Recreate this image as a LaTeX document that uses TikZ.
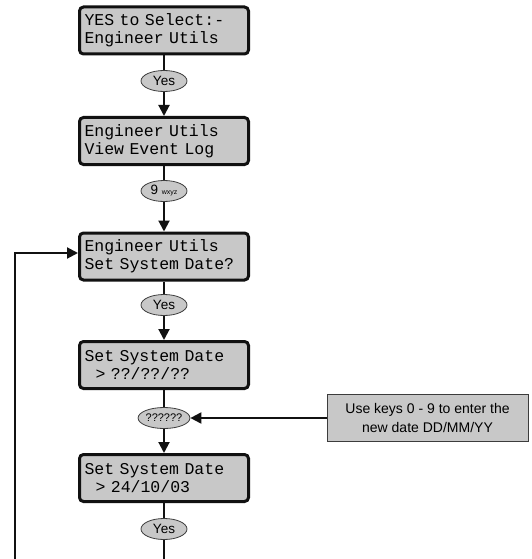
\documentclass[tikz,border=0pt]{standalone}
\usepackage{fontspec}
\setmainfont{Liberation Sans}
\newfontfamily\lcdfont{Liberation Mono}
\usetikzlibrary{arrows.meta,positioning,shapes.geometric}
\definecolor{menuInk}{HTML}{111111}
\definecolor{menuGray}{HTML}{C8C8C8}
\definecolor{menuEdge}{HTML}{3C3C3C}
\tikzset{
  lcd box/.style={draw=menuInk, fill=menuGray, line width=3pt, rounded corners=4pt,
    text width=159pt, inner xsep=5pt, minimum height=47pt, align=left,
    font=\lcdfont\fontsize{16.5}{18}\selectfont},
  key oval/.style={ellipse, draw=menuEdge, fill=menuGray, line width=0.8pt,
    minimum width=46pt, minimum height=21pt, inner sep=0pt,
    font=\fontsize{13.5}{13.5}\selectfont},
  note box/.style={draw=menuEdge, fill=menuGray, line width=0.8pt, align=center,
    minimum width=201pt, minimum height=47pt, inner sep=0pt,
    font=\fontsize{14}{19}\selectfont},
  flow line/.style={draw=menuInk, line width=2pt},
  flow arrow/.style={flow line, -{Triangle[length=11pt,width=11pt]}}
}

\begin{document}
\begin{tikzpicture}[x=1pt,y=-1pt]
  \useasboundingbox (0,0) rectangle (532,559);
  \node[lcd box] (s1) at (164,30.5) {YES to Select:-\\Engineer Utils};
  \node[key oval] (k1) at (164,81) {Yes};
  \node[lcd box] (s2) at (164,141) {Engineer Utils\\View Event Log};
  \node[key oval] (k2) at (164,191) {9 {\fontsize{7}{7}\selectfont wxyz}};
  \node[lcd box] (s3) at (164,256.5) {Engineer Utils\\Set System Date?};
  \node[key oval] (k3) at (164,305) {Yes};
  \node[lcd box] (s4) at (164,365) {Set System Date\\~~> ??/??/??};
  \node[key oval,font=\fontsize{11}{11}\selectfont] (k4) at (164,418) {??????};
  \node[lcd box] (s5) at (164,478) {Set System Date\\~~> 24/10/03};
  \node[key oval] (k5) at (164,529) {Yes};
  \node[note box] (note) at (427.5,418) {Use keys 0 - 9 to enter the\\new date DD/MM/YY};
  \coordinate (loopBot) at (15,559);
  \coordinate (loopTop) at (15,253);

  \draw[flow line] (s1) -- (k1);
  \draw[flow arrow] (k1) -- (s2);
  \draw[flow line] (s2) -- (k2);
  \draw[flow arrow] (k2) -- (s3);
  \draw[flow line] (s3) -- (k3);
  \draw[flow arrow] (k3) -- (s4);
  \draw[flow line] (s4) -- (k4);
  \draw[flow arrow] (k4) -- (s5);
  \draw[flow line] (s5) -- (k5);
  \draw[flow line] (k5) -- (k5 |- loopBot);
  \draw[flow arrow] (note) -- (k4);
  \draw[flow arrow] (loopBot) -- (loopTop) -- (s3.west |- loopTop);
\end{tikzpicture}
\end{document}
